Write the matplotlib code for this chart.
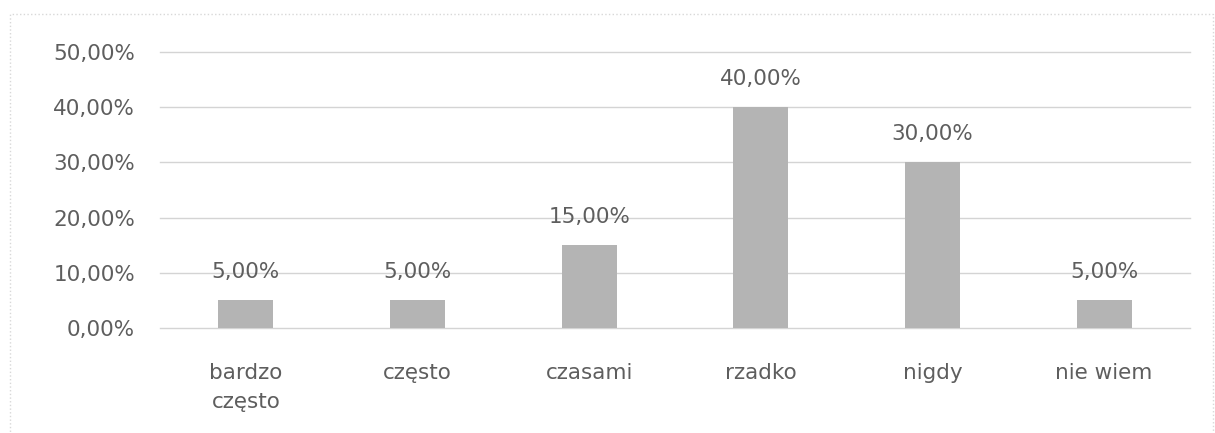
import numpy as np
import matplotlib.pyplot as plt
from matplotlib.patches import Rectangle

kategorie = ['bardzo\nczęsto', 'często', 'czasami', 'rzadko', 'nigdy', 'nie wiem']
procenty = [5.0, 5.0, 15.0, 40.0, 30.0, 5.0]
etykiety_y = [0, 10, 20, 30, 40, 50]

szary_tekst = '#5e5e5e'
plt.rcParams['font.family'] = ['DejaVu Sans']

fig = plt.figure(figsize=(12.15, 4.33), dpi=100)
ax = fig.add_axes([0.1317, 0.2425, 0.8477, 0.6375])

x = np.arange(len(kategorie))
ax.bar(x, procenty, width=0.32, color='#b4b4b4', zorder=2)

for xi, v in zip(x, procenty):
    ax.annotate(f'{v:.2f}%'.replace('.', ','), (xi, v), xytext=(0, 13),
                textcoords='offset points', ha='center', va='bottom',
                fontsize=15.5, color=szary_tekst)

ax.set_xlim(-0.5, len(kategorie) - 0.5)
ax.set_ylim(0, 50)
ax.set_yticks(etykiety_y)
ax.set_yticklabels([f'{t:.2f}%'.replace('.', ',') for t in etykiety_y])
ax.set_xticks(x)
ax.set_xticklabels(kategorie, linespacing=1.55)
ax.tick_params(axis='y', length=0, pad=18, labelsize=15.5, labelcolor=szary_tekst)
ax.tick_params(axis='x', length=0, pad=25, labelsize=15.5, labelcolor=szary_tekst)
ax.grid(axis='y', color='#d4d4d4', linewidth=1, zorder=0)
for linia in ax.get_ygridlines():
    linia.set_clip_on(False)
for s in ax.spines.values():
    s.set_visible(False)

# ramka wykresu
fig.patches.append(Rectangle((0.008, -0.05), 0.99, 1.018, transform=fig.transFigure,
                             fill=False, edgecolor='#d8d8d8', linestyle=':', linewidth=1))

fig.savefig('out.png', dpi=100, facecolor='white')
